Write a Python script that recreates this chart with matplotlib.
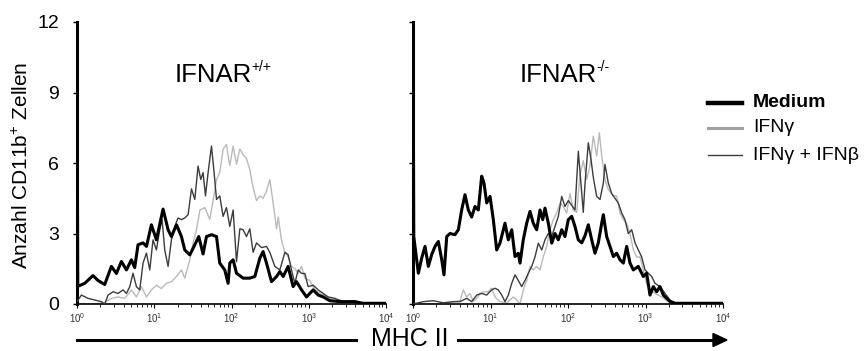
import numpy as np
import matplotlib
matplotlib.use("Agg")
import matplotlib.pyplot as plt
from matplotlib.lines import Line2D

plt.rcParams['font.family'] = ['Liberation Sans', 'DejaVu Sans']
plt.rcParams['mathtext.fontset'] = 'custom'
plt.rcParams['mathtext.rm'] = 'Liberation Sans'
plt.rcParams['mathtext.it'] = 'Liberation Sans'

# ---------------- data (x given as log10 of MHC II intensity) ----------------
wt_medium_log = [0.0, 0.01, 0.10, 0.207, 0.272, 0.359, 0.445, 0.510, 0.575, 0.640, 0.704, 0.747,
                 0.790, 0.855, 0.899, 0.963, 1.028, 1.114, 1.179, 1.222, 1.288, 1.352, 1.395,
                 1.460, 1.525, 1.576, 1.632, 1.676, 1.741, 1.806, 1.848, 1.913, 1.956, 1.978,
                 2.021, 2.065, 2.150, 2.237, 2.302, 2.367, 2.409, 2.453, 2.518, 2.583, 2.626,
                 2.669, 2.733, 2.798, 2.842, 2.907, 2.971, 3.057, 3.122, 3.187, 3.273, 3.403,
                 3.597, 3.705, 4.0]
wt_medium = [11.0, 0.75, 0.88, 1.21, 1.0, 0.83, 1.6, 1.3, 1.81, 1.45, 1.88, 1.55,
             2.52, 2.6, 2.45, 3.37, 2.73, 4.04, 3.16, 2.87, 3.37, 2.87, 2.3,
             2.09, 2.52, 2.87, 2.13, 2.87, 2.95, 2.87, 1.74, 1.45, 0.88, 1.74,
             1.88, 1.31, 1.1, 1.1, 1.17, 1.95, 2.23, 1.74, 0.95, 1.17, 1.38,
             1.17, 1.6, 0.74, 0.95, 0.6, 0.3, 0.6, 0.38, 0.3, 0.14, 0.1,
             0.1, 0.03, 0.03]

wt_ifng_log = [0.0, 0.2, 0.35, 0.445, 0.531, 0.618, 0.704, 0.769, 0.834, 0.899, 0.963, 1.028,
               1.093, 1.158, 1.222, 1.288, 1.352, 1.395, 1.460, 1.503, 1.547, 1.591, 1.655,
               1.718, 1.762, 1.806, 1.848, 1.891, 1.935, 1.956, 1.978, 2.021, 2.065, 2.108,
               2.150, 2.194, 2.237, 2.280, 2.324, 2.367, 2.409, 2.453, 2.496, 2.539, 2.583,
               2.605, 2.648, 2.691, 2.733, 2.777, 2.820, 2.863, 2.907, 2.950, 3.014, 3.079,
               3.144, 3.209, 3.299, 3.403, 3.532, 3.727, 4.0]
wt_ifng = [0.0, 0.0, 0.05, 0.24, 0.3, 0.24, 0.6, 0.3, 0.74, 0.3, 0.6, 0.8,
           0.66, 0.88, 0.95, 1.17, 1.45, 1.1, 1.88, 2.6, 3.16, 4.0, 4.1,
           3.6, 4.4, 5.3, 5.6, 6.58, 6.79, 6.3, 5.9, 6.72, 5.95, 6.6,
           6.35, 6.2, 5.72, 4.95, 4.4, 4.6, 4.5, 4.8, 5.3, 4.3, 3.2,
           3.7, 2.7, 2.2, 2.0, 1.6, 1.5, 1.3, 1.6, 1.1, 1.0, 0.6,
           0.45, 0.35, 0.2, 0.15, 0.08, 0.03, 0.0]

wt_both_log = [0.0, 0.057, 0.142, 0.229, 0.316, 0.359, 0.402, 0.466, 0.531, 0.596, 0.640, 0.683,
               0.725, 0.769, 0.812, 0.855, 0.899, 0.942, 0.984, 1.028, 1.071, 1.101, 1.136,
               1.179, 1.222, 1.266, 1.308, 1.352, 1.395, 1.438, 1.482, 1.525, 1.567, 1.602,
               1.632, 1.663, 1.697, 1.741, 1.775, 1.806, 1.848, 1.891, 1.935, 1.978, 2.021,
               2.065, 2.108, 2.150, 2.194, 2.237, 2.280, 2.324, 2.389, 2.453, 2.496, 2.561,
               2.626, 2.691, 2.733, 2.777, 2.820, 2.863, 2.907, 2.950, 2.992, 3.057, 3.122,
               3.187, 3.251, 3.338, 3.446, 3.575, 3.705, 4.0]
wt_both = [0.1, 0.38, 0.24, 0.17, 0.1, 0.0, 0.38, 0.52, 0.45, 0.6, 0.45, 0.74,
           1.31, 0.74, 0.6, 1.74, 2.17, 1.45, 2.73, 2.3, 3.16, 3.6, 2.3,
           1.6, 2.73, 3.3, 3.66, 3.59, 3.66, 3.8, 4.9, 4.45, 5.87, 5.3,
           5.59, 4.6, 5.59, 6.72, 5.59, 4.45, 4.6, 3.73, 4.1, 3.3, 4.0,
           1.8, 3.2, 3.16, 2.87, 3.2, 2.2, 2.6, 2.4, 2.45, 2.2, 1.6,
           1.45, 2.2, 2.1, 1.45, 0.88, 1.45, 1.3, 1.3, 0.74, 0.8, 0.6,
           0.45, 0.3, 0.24, 0.1, 0.14, 0.03, 0.0]

ko_medium_log = [0.0, 0.01, 0.069, 0.112, 0.155, 0.198, 0.241, 0.284, 0.327, 0.370, 0.400, 0.435,
                 0.477, 0.542, 0.585, 0.628, 0.671, 0.714, 0.757, 0.800, 0.843, 0.886, 0.916,
                 0.951, 0.994, 1.036, 1.080, 1.123, 1.187, 1.230, 1.274, 1.316, 1.359, 1.381,
                 1.423, 1.467, 1.510, 1.552, 1.596, 1.639, 1.674, 1.703, 1.746, 1.790, 1.832,
                 1.875, 1.919, 1.961, 2.004, 2.048, 2.090, 2.133, 2.177, 2.219, 2.262, 2.306,
                 2.348, 2.391, 2.435, 2.456, 2.499, 2.542, 2.585, 2.628, 2.671, 2.714, 2.757,
                 2.800, 2.843, 2.907, 2.972, 3.015, 3.058, 3.101, 3.144, 3.187, 3.230, 3.274,
                 3.316, 3.381, 4.0]
ko_medium = [12.5, 2.87, 1.31, 1.95, 2.45, 1.6, 2.1, 2.45, 2.66, 1.9, 1.24, 2.87,
             3.0, 2.95, 3.16, 4.0, 4.65, 4.0, 3.7, 4.15, 4.0, 5.44, 5.15,
             4.3, 4.58, 3.6, 2.3, 2.6, 3.44, 2.73, 3.16, 2.02, 2.16, 1.74,
             2.73, 3.44, 3.94, 3.44, 3.16, 4.0, 3.59, 4.08, 3.44, 2.59, 3.0,
             2.73, 3.16, 2.87, 3.59, 3.73, 3.3, 2.73, 2.6, 2.9, 3.37, 2.73,
             2.16, 2.6, 3.44, 3.8, 2.87, 2.45, 2.02, 2.16, 1.88, 1.74, 2.45,
             1.74, 1.45, 1.6, 1.17, 1.31, 0.38, 0.74, 0.52, 0.74, 0.38, 0.24,
             0.1, 0.03, 0.03]

ko_ifng_log = [0.0, 0.348, 0.606, 0.649, 0.693, 0.735, 0.778, 0.822, 0.865, 0.907, 0.972, 1.015,
               1.058, 1.123, 1.209, 1.294, 1.338, 1.381, 1.423, 1.467, 1.510, 1.552, 1.596,
               1.639, 1.681, 1.725, 1.768, 1.810, 1.854, 1.897, 1.939, 1.983, 2.026, 2.068,
               2.112, 2.155, 2.197, 2.241, 2.284, 2.326, 2.370, 2.404, 2.435, 2.477, 2.520,
               2.585, 2.628, 2.671, 2.714, 2.757, 2.800, 2.843, 2.886, 2.929, 2.972, 3.015,
               3.058, 3.123, 3.209, 3.274, 3.342, 3.419, 4.0]
ko_ifng = [0.0, 0.0, 0.14, 0.6, 0.3, 0.45, 0.1, 0.24, 0.45, 0.52, 0.52, 0.67,
           0.3, 0.1, 0.05, 0.3, 0.17, 0.0, 0.6, 1.0, 1.6, 1.45, 1.6,
           1.45, 2.0, 2.45, 3.16, 3.59, 3.87, 4.3, 4.15, 3.87, 4.7, 4.0,
           3.9, 5.5, 6.1, 5.3, 5.9, 7.14, 6.3, 7.29, 6.3, 5.3, 4.87,
           4.6, 4.6, 3.87, 3.59, 3.44, 3.0, 2.3, 2.0, 2.0, 1.45, 0.88,
           0.6, 0.45, 0.3, 0.15, 0.05, 0.0, 0.0]

ko_both_log = [0.0, 0.133, 0.262, 0.391, 0.520, 0.606, 0.693, 0.757, 0.822, 0.886, 0.951, 1.015,
               1.058, 1.101, 1.145, 1.187, 1.230, 1.274, 1.316, 1.359, 1.403, 1.445, 1.488,
               1.532, 1.574, 1.617, 1.661, 1.703, 1.746, 1.790, 1.832, 1.875, 1.919, 1.961,
               2.004, 2.048, 2.090, 2.133, 2.168, 2.197, 2.219, 2.262, 2.297, 2.326, 2.370,
               2.413, 2.456, 2.477, 2.520, 2.564, 2.606, 2.649, 2.693, 2.735, 2.778, 2.822,
               2.865, 2.907, 2.951, 2.994, 3.036, 3.080, 3.123, 3.187, 3.252, 3.316, 3.381, 4.0]
ko_both = [0.0, 0.1, 0.14, 0.05, 0.1, 0.1, 0.24, 0.1, 0.38, 0.45, 0.38, 0.6,
           0.67, 0.6, 0.38, 0.1, 0.38, 0.88, 1.24, 1.0, 0.74, 1.0, 1.31,
           1.6, 2.0, 2.59, 2.3, 2.73, 3.0, 2.87, 3.3, 3.73, 4.58, 4.15,
           4.4, 4.2, 4.0, 6.5, 5.1, 3.9, 5.1, 6.86, 6.15, 5.4, 4.58,
           4.45, 5.15, 5.94, 5.15, 4.7, 4.5, 4.3, 3.87, 3.59, 3.0, 3.16,
           2.6, 2.3, 2.0, 1.45, 1.31, 1.17, 0.88, 0.74, 0.45, 0.17, 0.05, 0.0]

panel_titles = ["IFNAR", "IFNAR"]
panel_supers = ["+/+", "-/-"]
series_labels = ["Medium", "IFN\u03b3", "IFN\u03b3 + IFN\u03b2"]
y_ticks = [0, 3, 6, 9, 12]
x_ticks = [1, 10, 100, 1000, 10000]
x_ticklabels = [r"$10^0$", r"$10^1$", r"$10^2$", r"$10^3$", r"$10^4$"]
y_label = "Anzahl CD11b$^{+}$ Zellen"
x_label = "MHC II"

# ---------------- styles ----------------
c_medium, c_ifng, c_both = "#000000", "#bababa", "#3c3c3c"
W, H = 866, 351

fig = plt.figure(figsize=(W / 100, H / 100), dpi=100)

def fx(px):
    return px / W

def fy(py):
    return 1 - py / H

axes_px = [(77, 386), (413, 723)]
top_px, bot_px = 22, 304
panels = [
    (wt_medium_log, wt_medium, wt_ifng_log, wt_ifng, wt_both_log, wt_both),
    (ko_medium_log, ko_medium, ko_ifng_log, ko_ifng, ko_both_log, ko_both),
]
title_split_px = [252, 597]

for i, ((x0, x1), data) in enumerate(zip(axes_px, panels)):
    ax = fig.add_axes([fx(x0), fy(bot_px), fx(x1 - x0), (bot_px - top_px) / H])
    ml, mv, gl, gv, bl, bv = data
    ax.plot(10 ** np.array(gl), gv, color=c_ifng, lw=1.0, zorder=2)
    ax.plot(10 ** np.array(bl), bv, color=c_both, lw=1.0, zorder=3)
    ax.plot(10 ** np.array(ml), mv, color=c_medium, lw=2.2, zorder=4,
            solid_joinstyle='round')
    ax.set_xscale('log')
    ax.set_xlim(1, 10000)
    ax.set_ylim(0, 12)
    ax.set_xticks(x_ticks)
    ax.set_xticklabels(x_ticklabels, fontsize=7, color="#333333")
    ax.set_yticks(y_ticks)
    if i == 0:
        ax.set_yticklabels([str(t) for t in y_ticks], fontsize=14)
    else:
        ax.set_yticklabels([])
    ax.tick_params(axis='y', length=3, width=1, pad=10)
    ax.tick_params(axis='x', which='major', length=3, width=0.8, pad=2)
    ax.tick_params(axis='x', which='minor', length=2, width=0.6)
    for s in ['top', 'right']:
        ax.spines[s].set_visible(False)
    ax.spines['left'].set_linewidth(2.2)
    ax.spines['bottom'].set_linewidth(1.2)
    ax.patch.set_alpha(0)
    sx = title_split_px[i]
    fig.text(fx(sx), fy(75), panel_titles[i], ha='right', va='center', fontsize=18.5)
    fig.text(fx(sx - 1), fy(67), panel_supers[i], ha='left', va='center', fontsize=10)

# y label
fig.text(fx(22), fy(165), y_label, rotation=90, ha='center', va='center', fontsize=15)

# bottom arrow with MHC II
fig.add_artist(Line2D([fx(77), fx(356)], [fy(340), fy(340)], color='black', lw=2.2))
fig.text(fx(410), fy(339), x_label, ha='center', va='center', fontsize=18)
fig.add_artist(Line2D([fx(458), fx(716)], [fy(340), fy(340)], color='black', lw=2.2))
fig.patches.append(matplotlib.patches.Polygon(
    [[fx(713), fy(333.5)], [fx(727), fy(340)], [fx(713), fy(346.5)]],
    closed=True, transform=fig.transFigure, color='black', figure=fig))

# legend (manual)
leg_y = [103, 128, 155]
leg_col = [c_medium, "#a0a0a0", c_both]
leg_lw = [3.2, 2.2, 1.0]
leg_weight = ['bold', 'normal', 'normal']
for yy, col, lw, lab, wt in zip(leg_y, leg_col, leg_lw, series_labels, leg_weight):
    fig.add_artist(Line2D([fx(708), fx(742)], [fy(yy), fy(yy)], color=col, lw=lw))
    fig.text(fx(753), fy(yy), lab, ha='left', va='center', fontsize=14, fontweight=wt)

fig.savefig("out.png", dpi=100)
